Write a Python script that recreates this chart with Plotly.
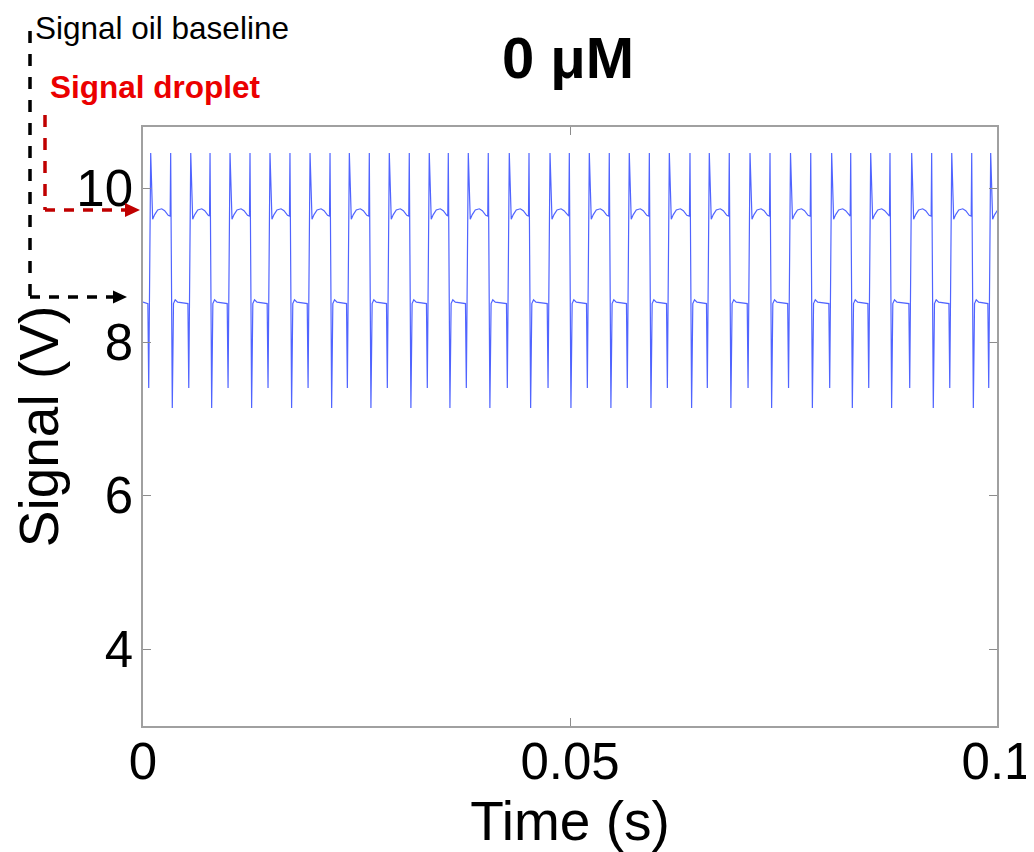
import plotly.graph_objects as go

# edge times (s): up-spike at start and end of each droplet
rise_times = [0.00090, 0.00559, 0.01019, 0.01487, 0.01956, 0.02416, 0.02884, 0.03352,
              0.03809, 0.04289, 0.04766, 0.05226, 0.05694, 0.06163, 0.06631, 0.07108,
              0.07582, 0.08064, 0.08521, 0.09001, 0.09470, 0.09926]
fall_times = [0.00324, 0.00785, 0.01253, 0.01721, 0.02190, 0.02650, 0.03118, 0.03575,
              0.04043, 0.04520, 0.04992, 0.05460, 0.05929, 0.06405, 0.06865, 0.07342,
              0.07819, 0.08287, 0.08747, 0.09235, 0.09704]

# shape around each edge (offset in s, signal in V)
rise_offsets = [-0.00033, -0.00023, 0.0, 0.00023, 0.00047, 0.00082, 0.00129, 0.00164, 0.00205]
rise_values = [8.50, 7.40, 10.46, 9.60, 9.66, 9.72, 9.735, 9.71, 9.65]
fall_offsets = [-0.00006, 0.0, 0.00019, 0.00033, 0.00053, 0.00082]
fall_values = [9.64, 10.46, 7.14, 8.50, 8.55, 8.52]

start_value = 8.52
end_value = 9.68

y_ticks = [4, 6, 8, 10]
x_ticks = [0, 0.05, 0.1]
x_tick_text = ["0", "0.05", "0.1"]

t = [0.0]
v = [start_value]
edges = sorted([(r, "r") for r in rise_times] + [(f, "f") for f in fall_times])
for time, kind in edges:
    offs, vals = (rise_offsets, rise_values) if kind == "r" else (fall_offsets, fall_values)
    for o, val in zip(offs, vals):
        t.append(time + o)
        v.append(val)
t.append(0.1)
v.append(end_value)

FONT = "Arial, Liberation Sans, sans-serif"
PAGE = 8  # default body margin of the html page
W, H = 1034 - PAGE, 852 - PAGE
L, R, T, B = 143, 997, 127, 726  # plot box in screenshot pixels


def px(x):
    return (x - L) / (R - L)


def py(y):
    return (B - y) / (B - T)


fig = go.Figure()
fig.add_trace(go.Scatter(x=t, y=v, mode="lines",
                         line=dict(color="rgb(80,100,255)", width=1.2), showlegend=False))

axis_common = dict(showline=True, linecolor="rgb(160,160,160)", linewidth=1.5, mirror="ticks",
                   ticks="inside", ticklen=8, tickcolor="rgb(140,140,140)", tickwidth=1,
                   showgrid=False, zeroline=False, automargin=False,
                   tickfont=dict(family=FONT, size=51, color="black"))

fig.update_xaxes(range=[0, 0.1], tickvals=x_ticks, ticktext=x_tick_text, ticklabelstandoff=-10,
                 title=dict(text="Time (s)", font=dict(family=FONT, size=55, color="black"),
                            standoff=8),
                 **axis_common)
fig.update_yaxes(range=[3, 10.8], tickvals=y_ticks, ticklabelstandoff=-2,
                 title=dict(text="Signal (V)", font=dict(family=FONT, size=55, color="black"),
                            standoff=4),
                 **axis_common)

shapes = []
# black dashed guide for oil baseline
shapes.append(dict(type="line", xref="paper", yref="paper", x0=px(30), y0=py(31), x1=px(30), y1=py(297),
                   line=dict(color="black", width=3.5, dash="12px,11px")))
shapes.append(dict(type="line", xref="paper", yref="paper", x0=px(30), y0=py(297), x1=px(114), y1=py(297),
                   line=dict(color="black", width=3.5, dash="10px,9px")))
shapes.append(dict(type="path", xref="paper", yref="paper",
                   path=f"M {px(113)},{py(290.5)} L {px(127)},{py(297)} L {px(113)},{py(303.5)} Z",
                   fillcolor="black", line=dict(width=0)))
# red dashed guide for droplet level
shapes.append(dict(type="line", xref="paper", yref="paper", x0=px(45), y0=py(115), x1=px(45), y1=py(210),
                   line=dict(color="rgb(192,0,0)", width=3.5, dash="12px,11px")))
shapes.append(dict(type="line", xref="paper", yref="paper", x0=px(45), y0=py(210), x1=px(125), y1=py(210),
                   line=dict(color="rgb(192,0,0)", width=3.5, dash="10px,9px")))
shapes.append(dict(type="path", xref="paper", yref="paper",
                   path=f"M {px(125)},{py(203)} L {px(140)},{py(210)} L {px(125)},{py(217)} Z",
                   fillcolor="rgb(192,0,0)", line=dict(width=0)))

annotations = [
    dict(text="Signal oil baseline", xref="paper", yref="paper", x=px(33), y=py(28),
         xanchor="left", yanchor="middle", showarrow=False,
         font=dict(family=FONT, size=31.5, color="black")),
    dict(text="<b>Signal droplet</b>", xref="paper", yref="paper", x=px(48), y=py(87),
         xanchor="left", yanchor="middle", showarrow=False,
         font=dict(family=FONT, size=31.5, color="rgb(235,0,0)")),
]

fig.update_layout(
    width=W, height=H,
    margin=dict(l=L - PAGE, r=W - (R - PAGE), t=T - PAGE, b=H - (B - PAGE)),
    paper_bgcolor="white", plot_bgcolor="white",
    title=dict(text="<b>0 μM</b>", x=(568 - PAGE) / W, xanchor="center",
               y=1 - 50 / H, yanchor="middle",
               font=dict(family=FONT, size=58, color="black")),
    shapes=shapes, annotations=annotations,
)

fig.write_html("out.html")
